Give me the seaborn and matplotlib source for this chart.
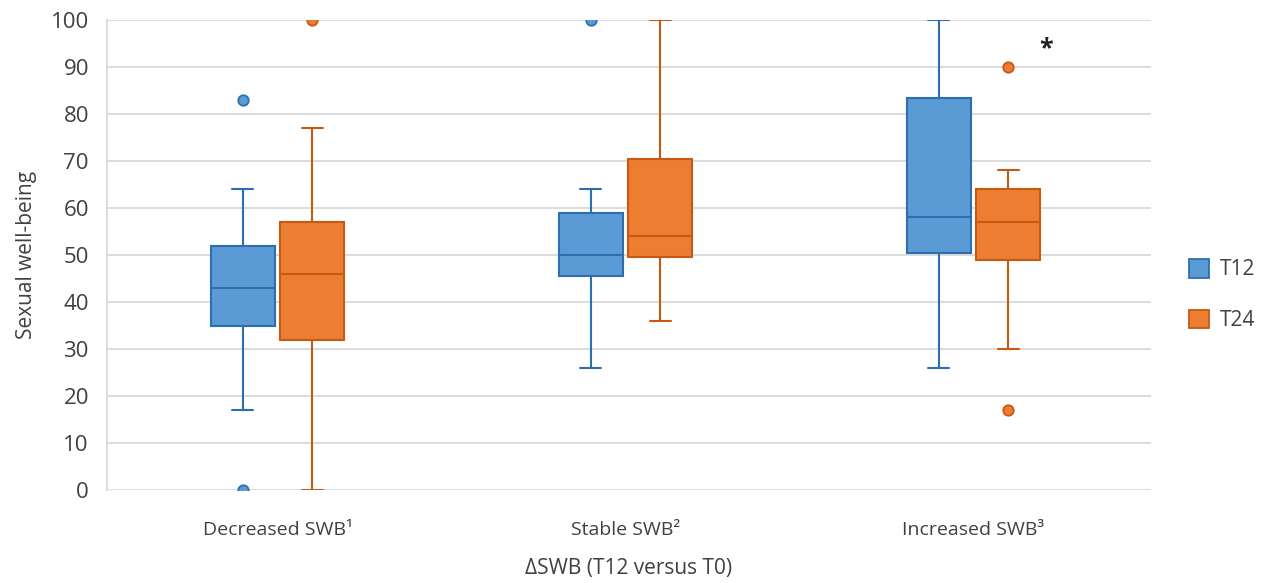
import matplotlib.pyplot as plt
import matplotlib.patches as mpatches
import numpy as np
import pandas as pd
import seaborn as sns

groups = ["Decreased SWB¹", "Stable SWB²", "Increased SWB³"]
timepoints = ["T12", "T24"]

# values: whisker ends, quartiles, medians, outlying dots
decreased_t12 = [0, 17, 35, 35, 43, 43, 52, 64, 83]
decreased_t24 = [0, 0, 32, 32, 46, 46, 57, 77, 100]
stable_t12 = [26, 26, 45.5, 45.5, 50, 50, 59, 64, 100]
stable_t24 = [36, 36, 49.5, 49.5, 54, 54, 70.5, 100, 100]
increased_t12 = [26, 26, 50.5, 50.5, 58, 58, 83.5, 100, 100]
increased_t24 = [17, 30, 49, 49, 57, 57, 64, 68, 90]

y_ticks = list(range(0, 101, 10))

fills = {"T12": "#5B9BD5", "T24": "#ED7D31"}
edges = {"T12": "#2E6DB0", "T24": "#C55A11"}

rows = []
for grp, t12, t24 in zip(groups,
                         [decreased_t12, stable_t12, increased_t12],
                         [decreased_t24, stable_t24, increased_t24]):
    rows += [(grp, "T12", v) for v in t12]
    rows += [(grp, "T24", v) for v in t24]
df = pd.DataFrame(rows, columns=["group", "time", "score"])

sns.set_theme(style="whitegrid")
plt.rcParams["font.family"] = ["Open Sans", "DejaVu Sans"]

fig = plt.figure(figsize=(12.66, 5.83), dpi=100)
ax = fig.add_axes([0.0845, 0.1595, 0.8245, 0.806])

sns.boxplot(
    data=df,
    x="group",
    y="score",
    hue="time",
    order=groups,
    hue_order=timepoints,
    palette=fills,
    width=0.4,
    gap=0.08,
    whis=1.5,
    linewidth=1.5,
    fliersize=7.5,
    capwidths=0.06,
    flierprops=dict(marker="o"),
    legend=False,
    ax=ax,
)


def side_of(x):
    return "T12" if x < round(x) else "T24"


for patch in ax.patches:
    ext = patch.get_path().get_extents()
    t = side_of((ext.x0 + ext.x1) / 2)
    patch.set_facecolor(fills[t])
    patch.set_edgecolor(edges[t])
    patch.set_linewidth(1.5)

for line in ax.lines:
    xd = np.asarray(line.get_xdata(), dtype=float)
    if xd.size == 0:
        continue
    t = side_of(xd.mean())
    line.set_color(edges[t])
    line.set_markerfacecolor(fills[t])
    line.set_markeredgecolor(edges[t])
    line.set_markeredgewidth(1.3)

ax.set_xlim(-0.49, 2.51)
ax.set_ylim(0, 100)
ax.set_yticks(y_ticks)
ax.grid(axis="y", color="#D9D9D9", linewidth=1.3)
ax.grid(axis="x", visible=False)
ax.set_axisbelow(True)
for s in ["top", "right", "bottom"]:
    ax.spines[s].set_visible(False)
ax.spines["left"].set_color("#D9D9D9")
ax.spines["left"].set_linewidth(1.3)

ax.tick_params(axis="both", length=0, colors="#404040")
ax.tick_params(axis="y", labelsize=16, pad=13)
ax.tick_params(axis="x", labelsize=14, pad=22)

ax.set_ylabel("Sexual well-being", fontsize=15, color="#404040", labelpad=10)
ax.set_xlabel("ΔSWB (T12 versus T0)", fontsize=15, color="#404040", labelpad=14)

ax.text(2.21, 94, "*", fontsize=18, fontweight="bold", color="#222222",
        ha="center", va="center")

handles = [
    mpatches.Patch(facecolor=fills[t], edgecolor=edges[t], linewidth=1.3, label=t)
    for t in timepoints
]
fig.legend(
    handles=handles,
    loc="center left",
    bbox_to_anchor=(0.924, 0.494),
    frameon=False,
    fontsize=15,
    labelcolor="#404040",
    handlelength=1.0,
    handleheight=1.0,
    handletextpad=0.5,
    labelspacing=1.4,
)

fig.savefig("out.png", dpi=100)
